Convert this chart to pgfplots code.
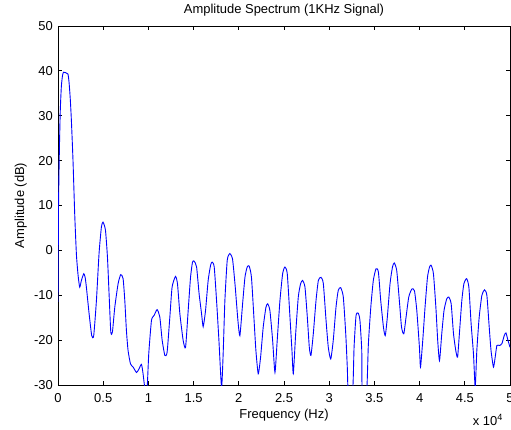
\documentclass[border=0pt]{standalone}
\usepackage{pgfplots}
\pgfplotsset{compat=1.18}
\usepackage{fontspec}
\setmainfont{Liberation Sans}

\begin{document}
\begin{tikzpicture}[x=1bp,y=1bp]
  \useasboundingbox (-58,-44) rectangle (453,385);
  \begin{axis}[
      at={(0,0)}, anchor=south west,
      scale only axis,
      width=452bp, height=359bp,
      xmin=0, xmax=5,
      ymin=-30, ymax=50,
      xtick={0,0.5,...,5},
      ytick={-30,-20,...,50},
      tick align=inside,
      tick pos=both,
      major tick length=4bp,
      axis line style={line width=0.8bp},
      every tick/.style={black, line width=0.8bp},
      font=\fontsize{13}{15}\selectfont,
      /pgf/number format/assume math mode=true,
      xticklabel style={anchor=base, inner sep=0pt, yshift=-17bp},
      yticklabel style={anchor=east, inner sep=0pt, xshift=-5bp},
      title={Amplitude Spectrum (1KHz Signal)},
      title style={at={(axis description cs:0.5,1.0195)}, anchor=base, inner sep=0pt},
      xlabel={Frequency (Hz)},
      xlabel style={at={(axis description cs:0.5,-0.0919)}, anchor=base, inner sep=0pt},
      ylabel={Amplitude (dB)},
      ylabel style={at={(axis description cs:-0.0752,0.5)}, anchor=base, inner sep=0pt},
    ]
    \addplot[color=blue, line width=0.9bp, smooth, tension=0.35] coordinates {
      (0,-11.5)(0.006,10)(0.015,22)(0.025,31)(0.037,36.5)(0.05,39)(0.062,39.7)
      (0.085,39.6)(0.11,39.3)(0.122,37.5)(0.135,34)(0.148,29)(0.166,20)(0.185,8)
      (0.204,-1)(0.222,-5.5)(0.24,-8.2)(0.259,-6.7)(0.285,-5.2)(0.3,-6)(0.314,-8.2)
      (0.344,-14.1)(0.373,-19)(0.395,-19)(0.425,-11.2)(0.454,-0.7)(0.48,5.2)(0.498,6.3)
      (0.525,4.5)(0.547,-1.5)(0.565,-9.7)(0.584,-18.2)(0.602,-18.2)(0.628,-12.7)
      (0.665,-7.4)(0.694,-5.4)(0.72,-6.3)(0.739,-11.2)(0.757,-17.9)(0.775,-22.3)
      (0.802,-25.3)(0.831,-26)(0.868,-27.2)(0.894,-26.5)(0.923,-25.4)(0.941,-27.5)
      (0.96,-30.5)(0.986,-30.5)(1.004,-23)(1.034,-15.6)(1.063,-14.5)(1.096,-13.2)
      (1.126,-14.8)(1.152,-20)(1.182,-23.4)(1.207,-22.7)(1.237,-14.9)(1.262,-8.2)
      (1.3,-5.8)(1.322,-7.5)(1.348,-14.1)(1.384,-20)(1.411,-21.6)(1.44,-13.4)
      (1.466,-6)(1.488,-2.6)(1.506,-2.4)(1.533,-3.7)(1.561,-9.7)(1.588,-14.1)
      (1.606,-17)(1.632,-13.4)(1.661,-6.7)(1.688,-3.3)(1.705,-2.6)(1.728,-3.7)
      (1.754,-11.2)(1.78,-20)(1.809,-30.5)(1.827,-23)(1.846,-11.2)(1.872,-2.2)
      (1.901,-0.7)(1.931,-2)(1.96,-8)(1.99,-15.6)(2.012,-19)(2.042,-11.9)(2.068,-6)
      (2.093,-3.7)(2.115,-3.5)(2.14,-6)(2.167,-14.9)(2.189,-22.3)(2.215,-27.5)
      (2.241,-23.8)(2.27,-17.1)(2.3,-12.7)(2.319,-11.9)(2.344,-13.4)(2.374,-20)
      (2.4,-27.2)(2.425,-20)(2.455,-11.2)(2.485,-5.2)(2.51,-3.7)(2.536,-5.2)
      (2.566,-14.9)(2.588,-22.3)(2.603,-27.5)(2.629,-18.6)(2.658,-10.4)(2.684,-7.4)
      (2.706,-6.7)(2.732,-8.2)(2.758,-14.9)(2.78,-21.6)(2.798,-23.4)(2.824,-18.6)
      (2.854,-11.2)(2.88,-6.7)(2.909,-6)(2.935,-7.4)(2.965,-15.6)(2.99,-21.6)
      (3.017,-24.2)(3.045,-20)(3.075,-12.7)(3.1,-8.9)(3.127,-8.3)(3.156,-10.4)
      (3.183,-18.6)(3.2,-26)(3.21,-31)(3.26,-31)(3.275,-21.6)(3.297,-14.5)
      (3.322,-14)(3.34,-15.6)(3.36,-22.3)(3.365,-31)(3.415,-31)(3.433,-21)
      (3.46,-12.7)(3.488,-6.7)(3.518,-4.1)(3.544,-4.8)(3.57,-11.2)(3.6,-17.1)
      (3.62,-19)(3.643,-14.9)(3.673,-7.4)(3.7,-3.7)(3.72,-2.8)(3.747,-4.5)
      (3.776,-11.2)(3.8,-17.1)(3.825,-18.6)(3.85,-14.9)(3.88,-10.4)(3.914,-8.6)
      (3.943,-9)(3.969,-13.4)(3.998,-21.6)(4.01,-26)(4.035,-20)(4.06,-12.7)
      (4.087,-6)(4.11,-3.7)(4.127,-3.3)(4.153,-5.2)(4.18,-12.7)(4.2,-20)(4.22,-24.6)
      (4.245,-18.6)(4.27,-13.4)(4.3,-10.8)(4.323,-10.4)(4.349,-11.9)(4.375,-18.6)
      (4.4,-22.3)(4.42,-23.8)(4.44,-18.6)(4.467,-11.2)(4.49,-7.4)(4.52,-6.3)
      (4.545,-8.2)(4.57,-16.4)(4.596,-23.1)(4.615,-30.5)(4.633,-22.3)(4.659,-14.9)
      (4.689,-10)(4.718,-8.8)(4.744,-10)(4.77,-17.1)(4.79,-22.3)(4.817,-26)
      (4.836,-23.8)(4.855,-21.2)(4.884,-21.2)(4.91,-20.8)(4.936,-19)(4.955,-18.4)
      (4.977,-20)(5,-21.6)
    };
  \end{axis}
  % axis exponent, bottom right as MATLAB puts it
  \node[anchor=base east, inner sep=0pt, font=\fontsize{13}{15}\selectfont]
    at (445,-40) {x 10\textsuperscript{4}};
\end{tikzpicture}
\end{document}
